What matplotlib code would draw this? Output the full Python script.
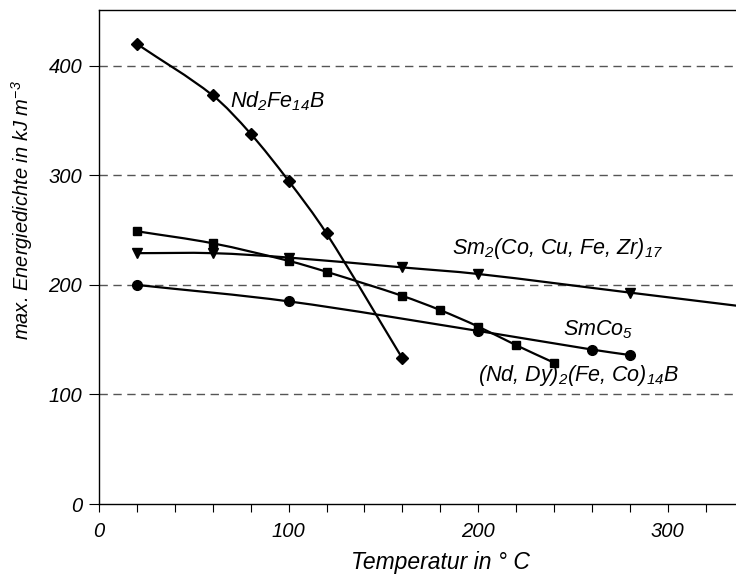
import numpy as np
import matplotlib
matplotlib.use("Agg")
import matplotlib.pyplot as plt
from matplotlib.path import Path
from matplotlib.patches import PathPatch

plt.rcParams["font.family"] = ["Liberation Sans", "DejaVu Sans"]
plt.rcParams["font.style"] = "italic"
plt.rcParams["mathtext.fontset"] = "custom"
plt.rcParams["mathtext.rm"] = "Liberation Sans:italic"
plt.rcParams["mathtext.it"] = "Liberation Sans:italic"
plt.rcParams["mathtext.default"] = "rm"

# Werte
nd_t = [20, 60, 80, 100, 120, 160]
nd_e = [420, 373, 338, 295, 247, 133]

sm2_t = [20, 60, 100, 160, 200, 280, 360]  # letzter Punkt liegt ausserhalb der Achse
sm2_e = [229, 229, 225, 216, 210, 193, 176]

nddy_t = [20, 60, 100, 120, 160, 180, 200, 220, 240]
nddy_e = [249, 238, 222, 212, 190, 177, 162, 145, 129]

smco_t = [20, 100, 200, 260, 280]
smco_e = [200, 185, 158, 141, 136]

labels = {
    "nd": "Nd$_2$Fe$_{14}$B",
    "sm2": "Sm$_2$(Co, Cu, Fe, Zr)$_{17}$",
    "smco": "SmCo$_5$",
    "nddy": "(Nd, Dy)$_2$(Fe, Co)$_{14}$B",
}

FS_TICK = 14.5
FS_CURVE = 15.5


def smooth_path(x, y):
    """geglaettete Linie (kubische Hermite-Kurve) als Bezier-Pfad"""
    x = np.asarray(x, float)
    y = np.asarray(y, float)
    n = len(x)
    m = np.empty(n)
    m[0] = (y[1] - y[0]) / (x[1] - x[0])
    m[-1] = (y[-1] - y[-2]) / (x[-1] - x[-2])
    for i in range(1, n - 1):
        m[i] = (y[i + 1] - y[i - 1]) / (x[i + 1] - x[i - 1])
    verts = [(x[0], y[0])]
    codes = [Path.MOVETO]
    for i in range(n - 1):
        h = x[i + 1] - x[i]
        verts += [(x[i] + h / 3, y[i] + m[i] * h / 3),
                  (x[i + 1] - h / 3, y[i + 1] - m[i + 1] * h / 3),
                  (x[i + 1], y[i + 1])]
        codes += [Path.CURVE4] * 3
    return Path(verts, codes)


fig = plt.figure(figsize=(7.36, 5.85), dpi=100)
ax = fig.add_axes([99 / 736, 81 / 585, 637 / 736, 494 / 585])

series = [
    (nd_t, nd_e, "D", 6),
    (sm2_t, sm2_e, "v", 7),
    (nddy_t, nddy_e, "s", 5.5),
    (smco_t, smco_e, "o", 7),
]
for t, e, m, ms in series:
    ax.add_patch(PathPatch(smooth_path(t, e), facecolor="none",
                           edgecolor="black", lw=1.6, zorder=3))
    ax.plot(t, e, linestyle="none", marker=m, ms=ms, color="black", zorder=4)

ax.set_xlim(0, 336)
ax.set_ylim(0, 451)

ax.set_xticks([0, 100, 200, 300])
ax.set_xticks(np.arange(0, 340, 20), minor=True)
ax.set_yticks([0, 100, 200, 300, 400])
ax.tick_params(axis="x", which="both", direction="out", length=6, width=0.8,
               labelsize=FS_TICK, pad=7)
ax.tick_params(axis="y", direction="out", length=7, width=0.8,
               labelsize=FS_TICK, pad=5)

for v in [100, 200, 300, 400]:
    ax.axhline(v, color="#555555", lw=1.0, dashes=(6, 4), zorder=1)

ax.spines["right"].set_visible(False)
for s in ["left", "top", "bottom"]:
    ax.spines[s].set_linewidth(1.0)

ax.text(69, 368, labels["nd"], fontsize=FS_CURVE, ha="left", va="center")
ax.text(186, 233, labels["sm2"], fontsize=FS_CURVE, ha="left", va="center")
ax.text(245, 159, labels["smco"], fontsize=FS_CURVE, ha="left", va="center")
ax.text(200, 117, labels["nddy"], fontsize=FS_CURVE, ha="left", va="center")

fig.text(440 / 736, 1 - 562 / 585, "Temperatur in ° C", fontsize=16.5,
         ha="center", va="center")
fig.text(22 / 736, 1 - 210 / 585, "max. Energiedichte in kJ m$^{-3}$",
         fontsize=14.5, ha="center", va="center", rotation=90)

fig.savefig("out.png", dpi=100)
